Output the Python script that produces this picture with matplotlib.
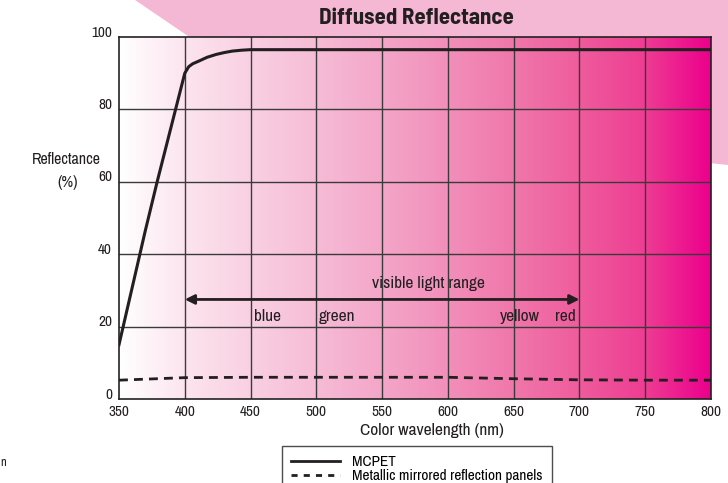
import numpy as np
import matplotlib
matplotlib.use("Agg")
import matplotlib.pyplot as plt
from matplotlib.colors import LinearSegmentedColormap
from matplotlib.patches import Polygon
from matplotlib.lines import Line2D

plt.rcParams['font.family'] = ['Archivo Narrow', 'Liberation Sans', 'DejaVu Sans']

# data
mcpet_wl = [350, 370, 379, 393, 400, 403, 406, 411, 417, 424, 430, 436, 443, 450, 800]
mcpet_r = [15, 46.5, 60, 80, 90, 91.8, 92.6, 93.4, 94.4, 95.2, 95.7, 96.1, 96.35, 96.5, 96.5]
metal_wl = [350, 400, 450, 500, 550, 600, 650, 700, 750, 800]
metal_r = [5.2, 5.9, 6.0, 6.0, 6.0, 6.0, 5.6, 5.3, 5.2, 5.2]
x_ticks = [350, 400, 450, 500, 550, 600, 650, 700, 750, 800]
y_ticks = [0, 20, 40, 60, 80, 100]
color_names = ["blue", "green", "yellow", "red"]
color_pos = [463, 516, 655, 689]

W, H = 728, 483
fig = plt.figure(figsize=(W / 100, H / 100), dpi=100)

# pink backdrop shape behind the top
bg = Polygon([(135 / W, 1), (1, 1), (1, 1 - 165 / H), (700 / W, 1 - 162 / H), (260 / W, 1 - 85 / H)],
             closed=True, transform=fig.transFigure, facecolor='#F5B8D4', edgecolor='none', zorder=-1)
fig.patches.append(bg)

ax = fig.add_axes([119 / W, 1 - 399 / H, (711 - 119) / W, (399 - 37) / H])
ax.set_xlim(350, 800)
ax.set_ylim(0, 100)

grad = LinearSegmentedColormap.from_list('pinks', [
    (0.0, '#FFFFFF'), (0.111, '#FCE4EE'), (0.222, '#F9D0E2'), (0.333, '#F6BCD6'),
    (0.444, '#F4A6C9'), (0.556, '#F28FBA'), (0.667, '#F077AB'), (0.778, '#EF5C9D'),
    (0.889, '#EE3D93'), (1.0, '#EC008C')])
ax.imshow(np.linspace(0, 1, 256).reshape(1, -1), cmap=grad, aspect='auto',
          extent=[350, 800, 0, 100], zorder=0)

for x in x_ticks[1:-1]:
    ax.axvline(x, color='#3a3a3a', lw=1, zorder=1)
for y in y_ticks[1:-1]:
    ax.axhline(y, color='#3a3a3a', lw=1, zorder=1)
for s in ax.spines.values():
    s.set_color('#222222')
    s.set_linewidth(1.2)

ax.plot(mcpet_wl, mcpet_r, color='#231f20', lw=2.2, zorder=3, solid_joinstyle='round')
ax.plot(metal_wl, metal_r, color='#231f20', lw=2, ls=(0, (3.2, 2.2)), zorder=3)

ax.set_xticks(x_ticks)
ax.set_yticks([])
ax.tick_params(axis='x', length=0, pad=4, labelsize=11, colors='#231f20')
for y in y_ticks:
    ax.text(-0.012, y + 1.2, str(y), transform=ax.get_yaxis_transform(),
            ha='right', va='center', fontsize=11, color='#231f20')

ax.annotate('', xy=(400, 27.5), xytext=(700, 27.5),
            arrowprops=dict(arrowstyle='<|-|>', color='#231f20', lw=2, mutation_scale=14,
                            shrinkA=0, shrinkB=0), zorder=4)
ax.text(585, 32, 'visible light range', ha='center', va='center', fontsize=12.5, color='#231f20')
for name, pos in zip(color_names, color_pos):
    ax.text(pos, 22.7, name, ha='center', va='center', fontsize=12.5, color='#231f20')

fig.text(416 / W, 1 - 18 / H, 'Diffused Reflectance', ha='center', va='center',
         fontsize=16.5, fontweight='bold', color='#231f20',
         family=['Barlow Semi Condensed', 'Liberation Sans', 'DejaVu Sans'])
fig.text(66 / W, 1 - 159 / H, 'Reflectance', ha='center', va='center',
         fontsize=11.5, color='#231f20')
fig.text(68 / W, 1 - 182 / H, '(%)', ha='center', va='center',
         fontsize=11.5, color='#231f20')
fig.text(432 / W, 1 - 430 / H, 'Color wavelength (nm)', ha='center', va='center',
         fontsize=12.5, color='#231f20')
fig.text(0, 1 - 462 / H, 'n', ha='left', va='center', fontsize=9, color='#231f20')

handles = [Line2D([], [], color='#231f20', lw=2),
           Line2D([], [], color='#231f20', lw=2, ls=(0, (2.2, 2.2)))]
leg = fig.legend(handles, ['MCPET', 'Metallic mirrored reflection panels'],
                 loc='upper left', bbox_to_anchor=(282 / W, 1 - 446 / H),
                 frameon=True, fancybox=False, fontsize=11, handlelength=3.2,
                 handletextpad=0.8, labelspacing=0.0, borderpad=0.6, borderaxespad=0)
leg.get_frame().set_edgecolor('#231f20')
leg.get_frame().set_linewidth(1)
leg.get_frame().set_facecolor('white')

fig.savefig('out.png', dpi=100)
